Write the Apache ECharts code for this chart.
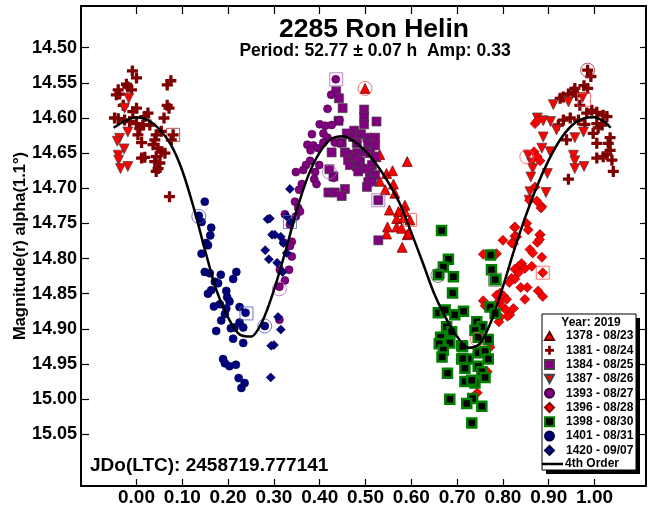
<!DOCTYPE html>
<html><head><meta charset="utf-8">
<script src="https://cdn.jsdelivr.net/npm/echarts@6/dist/echarts.min.js"></script>
<style>html,body{margin:0;padding:0;background:#fff}#c{width:652px;height:510px}</style>
</head><body><div id="c"></div>
<script>
const xTicks = [0.00,0.10,0.20,0.30,0.40,0.50,0.60,0.70,0.80,0.90,1.00];
const yTicks = [14.50,14.55,14.60,14.65,14.70,14.75,14.80,14.85,14.90,14.95,15.00,15.05];
const legendNames = ['1378 - 08/23','1381 - 08/24','1384 - 08/25','1387 - 08/26','1393 - 08/27','1396 - 08/28','1398 - 08/30','1401 - 08/31','1420 - 09/07'];

const s1378 = [[0.499,14.558],[0.531,14.652],[0.523,14.655],[0.591,14.662],[0.546,14.679],[0.559,14.675],[0.531,14.690],[0.561,14.694],[0.543,14.702],[0.564,14.707],[0.586,14.724],[0.552,14.731],[0.572,14.733],[0.586,14.733],[0.568,14.743],[0.583,14.742],[0.597,14.745],[0.548,14.755],[0.568,14.755],[0.579,14.757],[0.546,14.765],[0.591,14.766],[0.594,14.764],[0.580,14.784]];
const s1381 = [[-0.009,14.533],[0.000,14.543],[0.075,14.547],[0.067,14.553],[-0.022,14.552],[-0.019,14.556],[-0.040,14.560],[-0.011,14.560],[-0.044,14.567],[-0.037,14.566],[0.067,14.582],[0.071,14.586],[-0.029,14.582],[0.000,14.586],[-0.008,14.591],[0.025,14.593],[0.018,14.598],[0.060,14.600],[-0.048,14.600],[-0.040,14.601],[-0.026,14.603],[-0.015,14.605],[0.000,14.608],[0.014,14.610],[0.029,14.610],[0.007,14.615],[0.003,14.624],[0.043,14.624],[0.054,14.619],[0.080,14.624],[0.076,14.631],[0.011,14.635],[0.040,14.631],[0.036,14.638],[0.047,14.643],[0.062,14.650],[0.054,14.648],[0.011,14.657],[0.018,14.656],[0.043,14.655],[0.040,14.662],[0.051,14.664],[0.047,14.672],[0.043,14.676],[0.072,14.712],
[0.985,14.532],[0.992,14.541],[0.977,14.554],[0.985,14.558],[0.957,14.558],[0.954,14.563],[0.943,14.566],[0.932,14.570],[0.925,14.572],[0.961,14.568],[0.968,14.582],[0.994,14.589],[1.005,14.592],[1.019,14.596],[1.027,14.598],[0.983,14.593],[0.947,14.600],[0.932,14.603],[0.921,14.610],[0.965,14.603],[0.979,14.609],[1.005,14.608],[1.016,14.610],[0.997,14.622],[1.008,14.614],[0.939,14.631],[1.034,14.628],[1.005,14.636],[1.030,14.636],[1.034,14.646],[1.027,14.652],[1.005,14.657],[1.019,14.655],[1.038,14.660],[1.041,14.676],[0.943,14.687]];
const s1384 = [[0.436,14.562],[0.442,14.572],[0.450,14.586],[0.497,14.588],[0.497,14.598],[0.497,14.609],[0.524,14.605],[0.441,14.604],[0.459,14.622],[0.475,14.618],[0.473,14.627],[0.490,14.623],[0.504,14.628],[0.521,14.628],[0.448,14.635],[0.481,14.636],[0.506,14.636],[0.521,14.639],[0.426,14.649],[0.455,14.649],[0.466,14.652],[0.482,14.650],[0.499,14.648],[0.510,14.650],[0.521,14.655],[0.462,14.660],[0.477,14.658],[0.488,14.662],[0.466,14.667],[0.481,14.669],[0.499,14.672],[0.514,14.667],[0.484,14.676],[0.510,14.676],[0.421,14.673],[0.430,14.683],[0.510,14.686],[0.521,14.681],[0.506,14.691],[0.514,14.690],[0.503,14.698],[0.455,14.701],[0.419,14.706],[0.433,14.706],[0.448,14.711],[0.528,14.717],[0.528,14.774]];
const s1387 = [[-0.017,14.572],[-0.026,14.586],[-0.019,14.620],[-0.037,14.629],[-0.042,14.633],[-0.027,14.644],[-0.040,14.653],[-0.039,14.660],[-0.035,14.672],[-0.019,14.669],
[0.910,14.581],[0.875,14.600],[0.888,14.604],[0.904,14.605],[0.917,14.617],[0.888,14.627],[0.957,14.628],[0.885,14.643],[0.903,14.648],[0.954,14.653],[0.957,14.661],[0.957,14.672],[0.977,14.669],[0.863,14.664],[0.865,14.672],[0.861,14.684],[0.897,14.679],[0.894,14.706],[0.859,14.705],[0.857,14.717],[0.943,14.577],[0.974,14.571],[0.976,14.620],[0.855,14.653]];
const s1393 = [[0.435,14.545],[0.425,14.567],[0.417,14.587],[0.443,14.603],[0.400,14.609],[0.412,14.611],[0.426,14.610],[0.383,14.623],[0.408,14.622],[0.417,14.628],[0.373,14.638],[0.386,14.639],[0.380,14.646],[0.397,14.643],[0.408,14.635],[0.433,14.635],[0.444,14.636],[0.379,14.661],[0.370,14.667],[0.399,14.667],[0.364,14.674],[0.348,14.677],[0.390,14.677],[0.388,14.687],[0.430,14.685],[0.393,14.694],[0.361,14.694],[0.355,14.702],[0.346,14.719],[0.353,14.728],[0.357,14.733],[0.348,14.740],[0.324,14.737],[0.335,14.752],[0.339,14.776],[0.335,14.782],[0.321,14.777],[0.339,14.797],[0.333,14.816],[0.313,14.816],[0.324,14.831],[0.312,14.840],[0.312,14.887]];
const s1396 = [[0.885,14.726],[0.858,14.717],[0.826,14.755],[0.800,14.774],[0.826,14.768],[0.823,14.779],[0.881,14.766],[0.875,14.777],[0.859,14.787],[0.865,14.792],[0.885,14.798],[0.757,14.794],[0.786,14.793],[0.841,14.807],[0.834,14.811],[0.826,14.815],[0.848,14.814],[0.863,14.811],[0.834,14.820],[0.887,14.820],[0.819,14.828],[0.826,14.829],[0.814,14.834],[0.839,14.841],[0.853,14.841],[0.794,14.849],[0.786,14.852],[0.801,14.853],[0.877,14.846],[0.887,14.854],[0.848,14.858],[0.808,14.858],[0.757,14.860],[0.791,14.861],[0.800,14.869],[0.761,14.867],[0.823,14.871],[0.807,14.873],[0.815,14.880],[0.810,14.882],[0.794,14.883],[0.791,14.890],[0.772,14.926],[0.766,14.961],[0.744,14.991],
[0.870,14.608],[0.875,14.604],[0.868,14.648],[0.875,14.655],[0.881,14.661],[0.870,14.698],[0.874,14.718],[0.883,14.728],[0.852,14.750],[0.855,14.759],[0.826,14.756],[0.830,14.769],[0.881,14.766],[0.880,14.773],[0.819,14.778]];
const s1398 = [[0.666,14.760],[0.681,14.801],[0.670,14.812],[0.659,14.823],[0.692,14.826],[0.690,14.849],[0.773,14.795],[0.775,14.816],[0.783,14.830],[0.659,14.877],[0.674,14.873],[0.695,14.880],[0.714,14.875],[0.772,14.869],[0.783,14.878],[0.677,14.897],[0.688,14.904],[0.743,14.890],[0.754,14.897],[0.739,14.902],[0.664,14.912],[0.661,14.921],[0.684,14.920],[0.710,14.924],[0.768,14.915],[0.670,14.930],[0.746,14.912],[0.746,14.934],[0.761,14.932],[0.667,14.940],[0.710,14.943],[0.724,14.943],[0.768,14.943],[0.717,14.956],[0.746,14.953],[0.754,14.961],[0.679,14.963],[0.761,14.969],[0.717,14.975],[0.739,14.977],[0.732,14.973],[0.684,15.000],[0.734,14.999],[0.721,15.006],[0.754,15.010],[0.732,15.034],[0.712,14.925],[0.712,14.942]];
const s1401 = [[0.149,14.719],[0.136,14.739],[0.142,14.748],[0.163,14.756],[0.161,14.767],[0.152,14.778],[0.156,14.781],[0.142,14.793],[0.149,14.819],[0.160,14.821],[0.184,14.823],[0.218,14.819],[0.211,14.829],[0.171,14.833],[0.178,14.835],[0.163,14.845],[0.156,14.850],[0.196,14.846],[0.198,14.855],[0.203,14.861],[0.182,14.865],[0.169,14.868],[0.196,14.871],[0.225,14.869],[0.238,14.877],[0.193,14.879],[0.185,14.888],[0.225,14.891],[0.206,14.899],[0.214,14.898],[0.233,14.898],[0.174,14.903],[0.211,14.914],[0.233,14.920],[0.280,14.896],[0.189,14.943],[0.193,14.949],[0.203,14.953],[0.217,14.951],[0.223,14.970],[0.236,14.977],[0.229,14.984]];
const s1420 = [[0.281,14.788],[0.289,14.801],[0.294,14.924],[0.293,14.969],[0.286,14.744],[0.296,14.766],[0.307,14.806],[0.328,14.792],[0.319,14.819],[0.309,14.883],[0.315,14.901],[0.300,14.923],[0.335,14.701],[0.328,14.740],[0.337,14.748],[0.302,14.766],[0.315,14.769],[0.321,14.778],[0.291,14.743]];
const fitCurve = [[-0.05,14.614],[-0.025,14.604],[0.0,14.599],[0.025,14.603],[0.05,14.616],[0.075,14.638],[0.1,14.675],[0.125,14.728],[0.15,14.789],[0.175,14.846],[0.2,14.884],[0.225,14.908],[0.25,14.911],[0.275,14.889],[0.3,14.845],[0.325,14.790],[0.35,14.731],[0.375,14.682],[0.4,14.649],[0.425,14.630],[0.45,14.626],[0.475,14.633],[0.5,14.647],[0.525,14.667],[0.55,14.692],[0.575,14.722],[0.6,14.763],[0.625,14.806],[0.65,14.850],[0.675,14.884],[0.7,14.911],[0.725,14.927],[0.75,14.921],[0.775,14.888],[0.8,14.840],[0.825,14.787],[0.85,14.739],[0.875,14.696],[0.9,14.660],[0.925,14.631],[0.95,14.611],[0.975,14.601],[1.0,14.599],[1.025,14.607],[1.035,14.614]];
// first-point highlight rings: [phase, mag, seriesIndex]
const hlCircles = [[0.136,14.740,7],[0.280,14.896,7],[0.499,14.558,0],[0.312,14.843,4],[0.421,14.677,4],[0.658,14.824,6],[0.744,14.915,5],[0.852,14.655,3],[0.985,14.532,1]];
const hlSquares = [[0.080,14.624,1],[0.240,14.878,7],[0.436,14.545,4],[0.335,14.748,8],[0.528,14.717,2],[0.597,14.745,0],[0.783,14.830,6],[0.887,14.820,5],[0.977,14.574,3]];

const FONT = 'Liberation Sans, Arial, sans-serif';
const X_MIN = -0.1212, X_MAX = 1.1124, Y_MIN = 14.4407, Y_MAX = 15.1235;
const PLUS = 'path://M3.5,0H6.5V3.5H10V6.5H6.5V10H3.5V6.5H0V3.5H3.5Z';
const TRI_DOWN = 'path://M0,0L10,0L5,9Z';
const TRI_UP = 'path://M5,0L10,9L0,9Z';
const DIAMOND = 'path://M5,0L10,5L5,10L0,5Z';
const ringColors = ['#ff5050','#a03030','#b060c0','#ff5050','#b060c0','#ff5050','#606060','#5050c0','#6060c0'];

const styles = [
  {symbol: TRI_UP, size: 10, color: '#ff0000', border: '#600000', bw: 0.7},
  {symbol: PLUS, size: 11, color: '#800000', border: '#800000', bw: 0},
  {symbol: 'rect', size: 9, color: '#800080', border: '#444', bw: 0.7},
  {symbol: TRI_DOWN, size: 10, color: '#ff0000', border: '#444', bw: 0.7},
  {symbol: 'circle', size: 8, color: '#800080', border: '#400040', bw: 0.6},
  {symbol: DIAMOND, size: 10, color: '#ff0000', border: '#800000', bw: 0.6},
  {symbol: 'rect', size: 9, color: '#000000', border: '#008000', bw: 2.5},
  {symbol: 'circle', size: 8, color: '#000080', border: '#000040', bw: 0.6},
  {symbol: DIAMOND, size: 9, color: '#000080', border: '#000040', bw: 0.6}
];
const datasets = [s1378, s1381, s1384, s1387, s1393, s1396, s1398, s1401, s1420];

const series = datasets.map((d, i) => ({
  name: legendNames[i], type: 'scatter', data: d,
  symbol: styles[i].symbol, symbolSize: styles[i].size,
  itemStyle: {color: styles[i].color, borderColor: styles[i].border, borderWidth: styles[i].bw, opacity: 1},
  emphasis: {disabled: true}, z: 2
}));
series.push({
  name: 'hlC', type: 'scatter', symbol: 'circle', symbolSize: 14, z: 3,
  data: hlCircles.map(p => ({value: [p[0], p[1]], itemStyle: {borderColor: ringColors[p[2]]}})),
  itemStyle: {color: 'rgba(0,0,0,0)', borderWidth: 1}, emphasis: {disabled: true}
});
series.push({
  name: 'hlS', type: 'scatter', symbol: 'rect', symbolSize: 13, z: 3,
  data: hlSquares.map(p => ({value: [p[0], p[1]], itemStyle: {borderColor: ringColors[p[2]]}})),
  itemStyle: {color: 'rgba(0,0,0,0)', borderWidth: 1}, emphasis: {disabled: true}
});
series.push({
  name: '4th Order', type: 'line', data: fitCurve, symbol: 'none', smooth: 0.3,
  lineStyle: {color: '#000', width: 2.5}, itemStyle: {color: '#000'}, z: 4
});

const axisCommon = {
  type: 'value', min: X_MIN, max: X_MAX,
  axisLine: {show: true, onZero: false, lineStyle: {color: '#000', width: 2}},
  splitLine: {show: false}
};
const legendText = {color: '#000', fontFamily: FONT, fontWeight: 'bold', fontSize: 12};
const chart = echarts.init(document.getElementById('c'), null, {renderer: 'canvas'});
chart.setOption({
  animation: false,
  backgroundColor: '#fff',
  grid: {left: 81, right: 6, top: 6, bottom: 24, containLabel: false},
  xAxis: [
    Object.assign({}, axisCommon, {position: 'bottom',
      axisTick: {show: true, inside: true, length: 7, customValues: xTicks, lineStyle: {color: '#000', width: 1.2}},
      axisLabel: {show: true, customValues: xTicks, margin: 2, formatter: v => v.toFixed(2), color: '#000', fontFamily: FONT, fontWeight: 'bold', fontSize: 19}}),
    Object.assign({}, axisCommon, {position: 'top',
      axisTick: {show: true, inside: true, length: 8, customValues: xTicks, lineStyle: {color: '#000', width: 1.2}},
      axisLabel: {show: false}})
  ],
  yAxis: [
    {type: 'value', min: Y_MIN, max: Y_MAX, inverse: true, position: 'left',
      axisLine: {show: true, onZero: false, lineStyle: {color: '#000', width: 2}},
      splitLine: {show: false},
      axisTick: {show: true, inside: true, length: 8, customValues: yTicks, lineStyle: {color: '#000', width: 1.2}},
      axisLabel: {show: true, customValues: yTicks, margin: 4, formatter: v => v.toFixed(2), color: '#000', fontFamily: FONT, fontWeight: 'bold', fontSize: 18},
      name: 'Magnitude(r) alpha(1.1°)', nameLocation: 'middle', nameGap: 52, nameRotate: 90, nameMoveOverlap: false,
      nameTextStyle: {color: '#000', fontFamily: FONT, fontWeight: 'bold', fontSize: 16.5}},
    {type: 'value', min: Y_MIN, max: Y_MAX, inverse: true, position: 'right',
      axisLine: {show: true, onZero: false, lineStyle: {color: '#000', width: 2}},
      splitLine: {show: false},
      axisTick: {show: true, inside: true, length: 6, customValues: yTicks, lineStyle: {color: '#000', width: 1.2}},
      axisLabel: {show: false}}
  ],
  legend: [
    {data: legendNames, orient: 'vertical', left: 544, top: 330, padding: 0, itemWidth: 9, itemHeight: 9, itemGap: 2.3,
      selectedMode: false, z: 10, textStyle: Object.assign({padding: [0,0,0,7]}, legendText)},
    {data: ['4th Order'], orient: 'vertical', left: 542, top: 458, padding: 0, itemWidth: 21, itemHeight: 2.5, icon: 'rect',
      selectedMode: false, z: 10, textStyle: Object.assign({padding: [0,0,0,-3]}, legendText)}
  ],
  graphic: [
    {type: 'rect', z: 8, shape: {x: 546, y: 318, width: 94, height: 156}, style: {fill: '#000'}},
    {type: 'rect', z: 9, shape: {x: 542, y: 314, width: 94, height: 156}, style: {fill: '#fff', stroke: '#000', lineWidth: 1}},
    {type: 'text', z: 10, style: {x: 591, y: 323, text: 'Year: 2019', textAlign: 'center', textVerticalAlign: 'middle', fill: '#000', font: 'bold 12px ' + FONT}},
    {type: 'text', z: 10, style: {x: 374, y: 30, text: '2285 Ron Helin', textAlign: 'center', textVerticalAlign: 'middle', fill: '#000', font: 'bold 26.5px ' + FONT}},
    {type: 'text', z: 10, style: {x: 375, y: 51, text: 'Period: 52.77 ± 0.07 h  Amp: 0.33', textAlign: 'center', textVerticalAlign: 'middle', fill: '#000', font: 'bold 17.5px ' + FONT}},
    {type: 'text', z: 10, style: {x: 90, y: 466, text: 'JDo(LTC): 2458719.777141', textAlign: 'left', textVerticalAlign: 'middle', fill: '#000', font: 'bold 19px ' + FONT}}
  ],
  series: series
});
</script></body></html>
